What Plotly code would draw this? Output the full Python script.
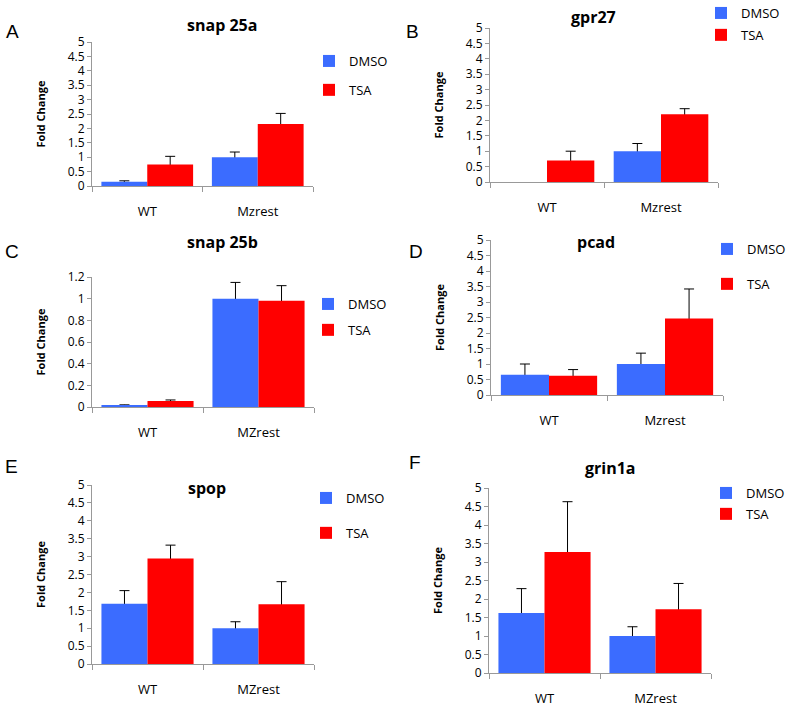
import plotly.graph_objects as go

W, H = 786, 706

# data
genes = ["snap 25a", "gpr27", "snap 25b", "pcad", "spop", "grin1a"]
letters = ["A", "B", "C", "D", "E", "F"]
groups_a = ["WT", "Mzrest"]
groups_b = ["WT", "Mzrest"]
groups_c = ["WT", "MZrest"]
groups_d = ["WT", "Mzrest"]
groups_e = ["WT", "MZrest"]
groups_f = ["WT", "MZrest"]
categories = [groups_a, groups_b, groups_c, groups_d, groups_e, groups_f]

dmso_values = [[0.15, 1.0], [None, 1.0], [0.015, 1.0], [0.65, 1.0], [1.68, 1.0], [1.62, 1.0]]
dmso_errors = [[0.03, 0.18], [None, 0.25], [0.005, 0.15], [0.35, 0.35], [0.37, 0.18], [0.66, 0.25]]
tsa_values = [[0.75, 2.15], [0.7, 2.2], [0.055, 0.98], [0.62, 2.47], [2.95, 1.67], [3.27, 1.72]]
tsa_errors = [[0.28, 0.37], [0.3, 0.18], [0.01, 0.14], [0.2, 0.95], [0.37, 0.63], [1.36, 0.7]]
y_max = [5, 5, 1.2, 5, 5, 5]
y_step = [0.5, 0.5, 0.2, 0.5, 0.5, 0.5]

# layout of each panel, in pixels of the 786x706 page
plot_boxes = [  # left, right, top, bottom
    (92, 313, 42, 186), (490, 718, 28, 182),
    (92, 314, 277, 407), (491, 723, 240, 395),
    (92, 314, 485, 664), (489, 711, 488, 673),
]
title_pos = [(222, 25), (593, 17), (222, 242), (596, 242), (207, 488), (610, 468)]
letter_pos = [(12, 31), (412, 31), (12, 251), (416, 252), (11, 466), (415, 462)]
# legend text left edge, first item centre, item spacing
legend_pos = [(343, 60, 28), (735, 12, 21), (342, 303, 25), (741, 248, 34), (340, 497, 34), (740, 492, 20)]

BLUE = "#3B6CFF"
RED = "#FF0000"
AXIS = "#999999"
FONT = "Open Sans"


def px_x(x):
    return x / W


def px_y(y):
    return 1 - y / H


fig = go.Figure()
layout = {}
annotations = []

for i in range(6):
    n = "" if i == 0 else str(i + 1)
    leg = "legend" + n
    xa, ya = "x" + n, "y" + n

    for name, vals, errs, color in [
        ("DMSO", dmso_values[i], dmso_errors[i], BLUE),
        ("TSA", tsa_values[i], tsa_errors[i], RED),
    ]:
        # transparent copy carrying the error bar; the solid bar drawn
        # after it hides the lower half so only the upper whisker shows
        fig.add_trace(go.Bar(
            x=categories[i], y=vals, name=name,
            marker=dict(color="rgba(0,0,0,0)", line=dict(width=0)),
            error_y=dict(type="data", symmetric=True, array=errs,
                         color="black", thickness=1, width=5),
            xaxis=xa, yaxis=ya, offsetgroup=name,
            showlegend=False, hoverinfo="skip",
        ))
        fig.add_trace(go.Bar(
            x=categories[i], y=vals, name=name,
            marker=dict(color=color, line=dict(width=0)),
            xaxis=xa, yaxis=ya, offsetgroup=name, legend=leg,
            legendgroup=f"{name}{i}",
        ))

    left, right, top, bottom = plot_boxes[i]
    layout["xaxis" + n] = dict(
        domain=[px_x(left), px_x(right)], anchor=ya,
        showline=True, linecolor=AXIS, linewidth=1,
        ticks="outside", tickson="boundaries", ticklen=5, tickcolor=AXIS,
        tickfont=dict(size=13, color="black", family=FONT),
        ticklabelstandoff=13, showgrid=False, zeroline=False,
    )
    layout["yaxis" + n] = dict(
        domain=[px_y(bottom), px_y(top)], anchor=xa,
        range=[0, y_max[i]], dtick=y_step[i],
        showline=True, linecolor=AXIS, linewidth=1,
        ticks="outside", ticklen=4, tickcolor=AXIS,
        tickfont=dict(size=12, color="black", family=FONT),
        showgrid=False, zeroline=False,
        title=dict(text="<b>Fold Change</b>", standoff=19,
                   font=dict(size=11, color="black", family=FONT)),
    )

    tx_left, ly, gap = legend_pos[i]
    layout[leg] = dict(
        x=px_x(tx_left - 34), y=px_y(ly - 14), xanchor="left", yanchor="top",
        bgcolor="rgba(0,0,0,0)", borderwidth=0,
        font=dict(size=13, color="black", family=FONT),
        tracegroupgap=max(gap - 19, 0), traceorder="grouped",
    )

    tx, ty = title_pos[i]
    annotations.append(dict(
        text=f"<b>{genes[i]}</b>", x=px_x(tx), y=px_y(ty),
        xref="paper", yref="paper", showarrow=False,
        xanchor="center", yanchor="middle",
        font=dict(size=16, color="black", family=FONT),
    ))
    cx, cy = letter_pos[i]
    annotations.append(dict(
        text=letters[i], x=px_x(cx), y=px_y(cy),
        xref="paper", yref="paper", showarrow=False,
        xanchor="center", yanchor="middle",
        font=dict(size=19, color="black", family="Liberation Sans"),
    ))

fig.update_layout(
    width=W, height=H,
    margin=dict(l=0, r=0, t=0, b=0, autoexpand=False),
    paper_bgcolor="white", plot_bgcolor="white",
    barmode="group", bargap=0.17, bargroupgap=0,
    showlegend=True,
    annotations=annotations,
    **layout,
)

# drop the page's default body margin so the figure sits at the window corner
fig.write_html(
    "out.html",
    config={"displayModeBar": False},
    post_script="document.body.style.margin='0';",
)
